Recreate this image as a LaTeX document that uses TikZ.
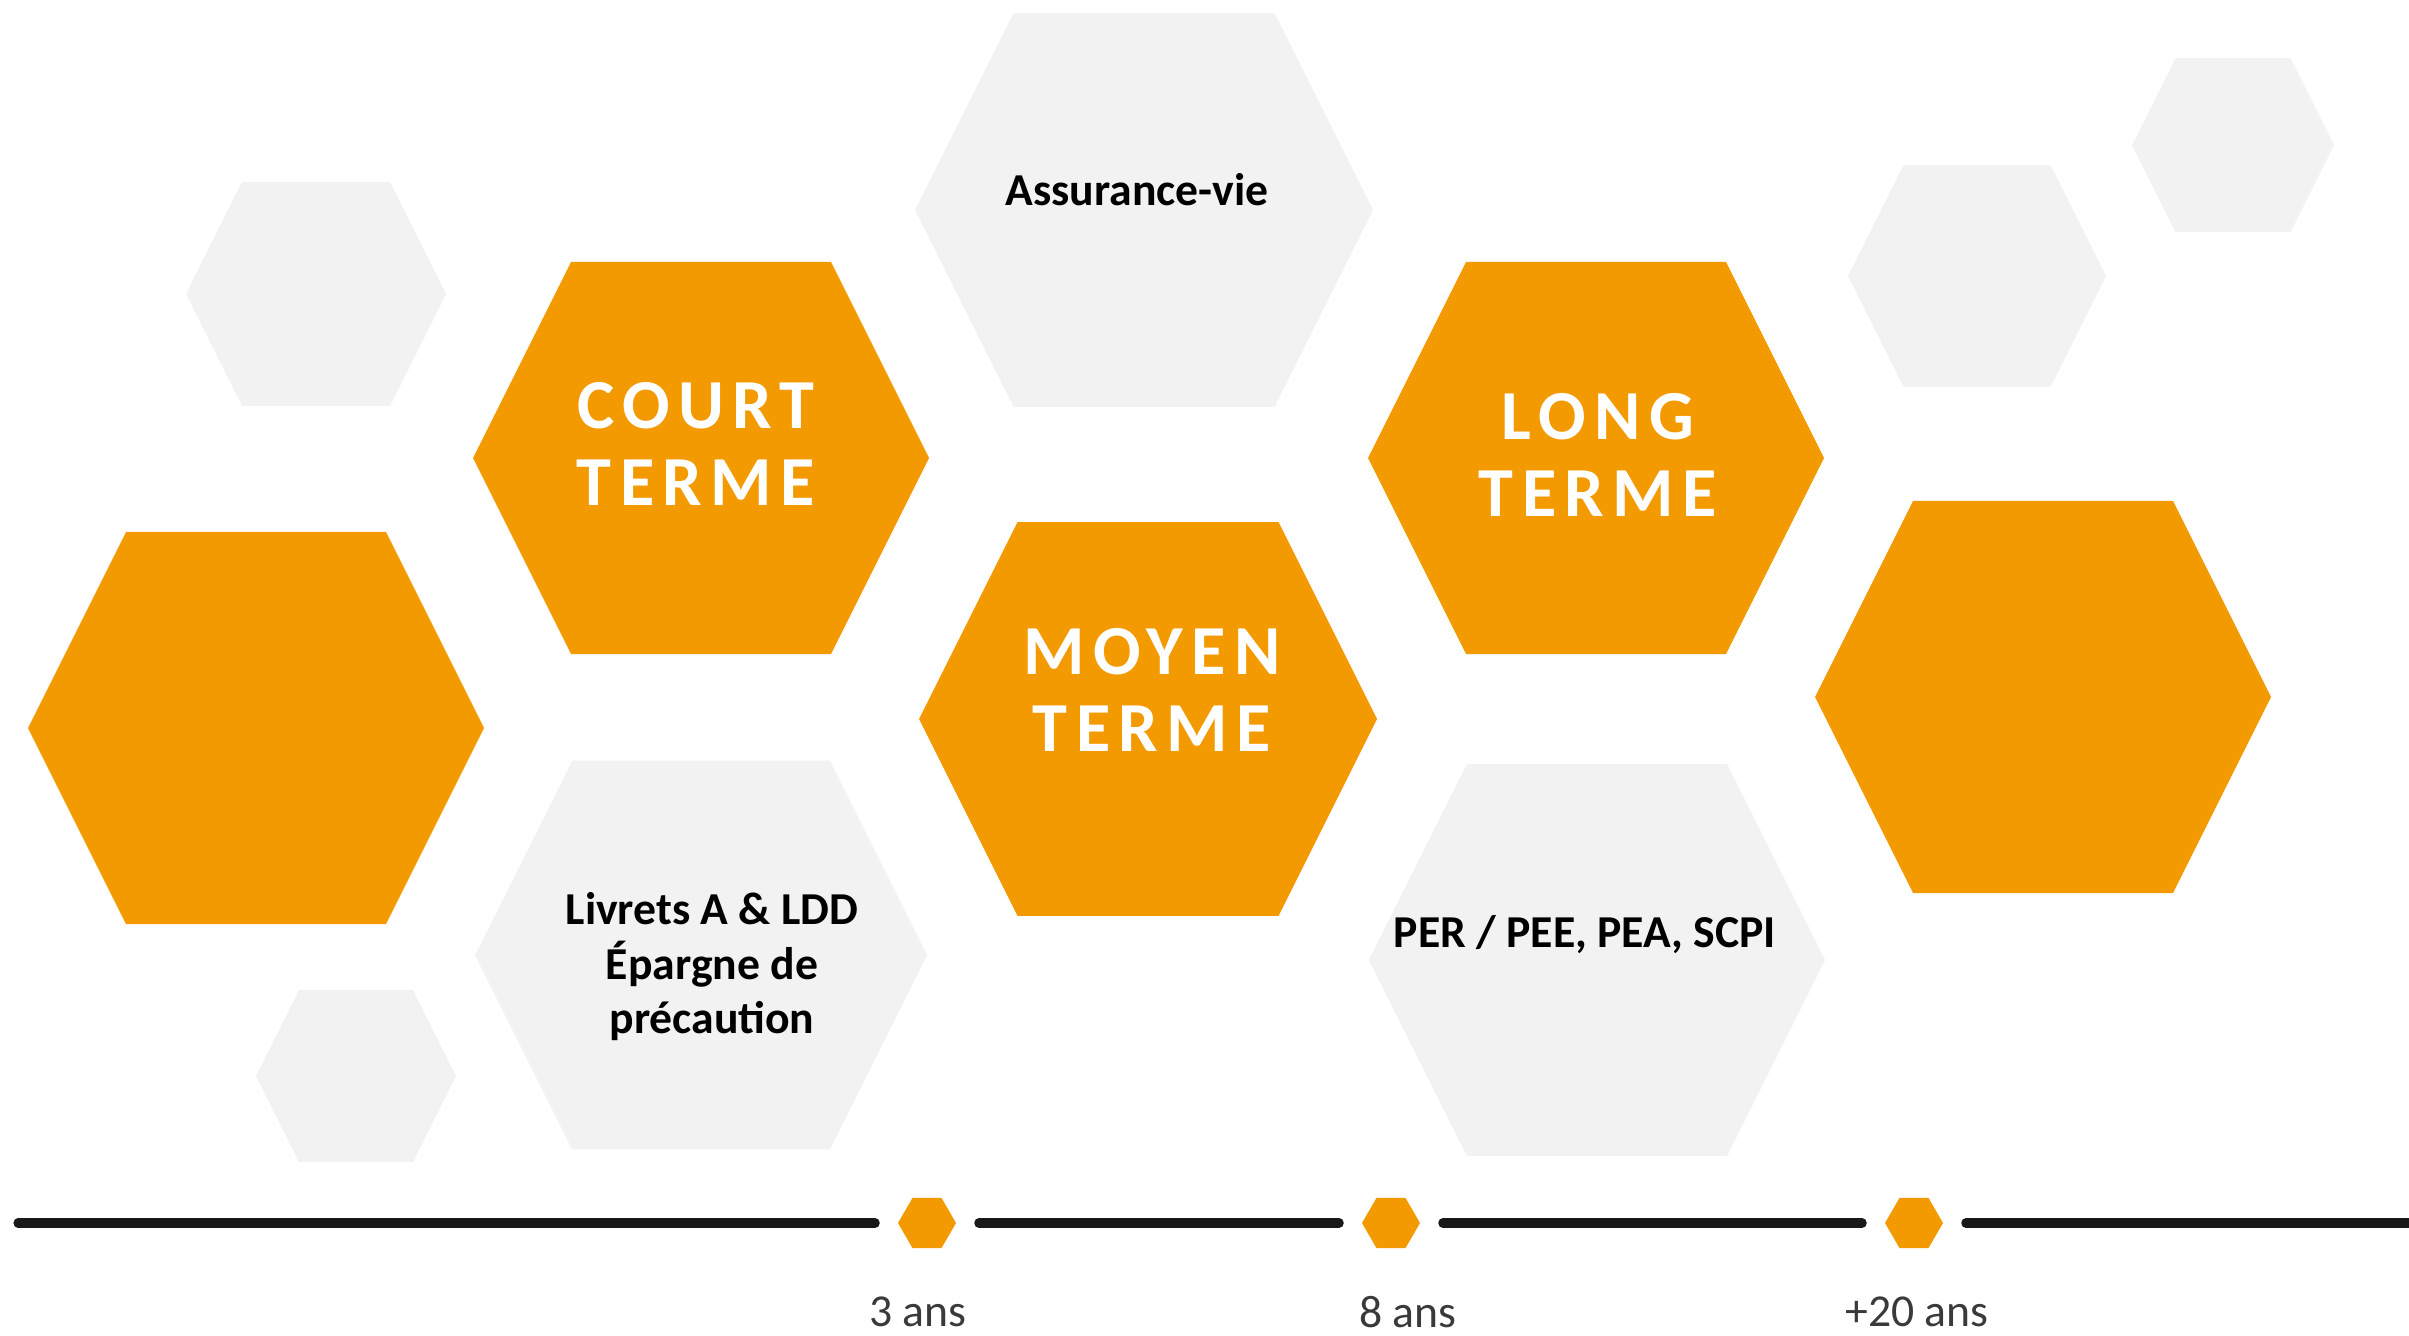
\documentclass[tikz,border=0pt]{standalone}
\usepackage{fontspec}
\setmainfont{Carlito}
\newfontfamily\spaced[LetterSpace=12]{Carlito}
\usetikzlibrary{shapes.geometric}
\definecolor{orangeh}{HTML}{F39A00}
\definecolor{grish}{HTML}{F2F2F2}
\definecolor{grisl}{HTML}{3A3A3A}

\begin{document}
\begin{tikzpicture}[
  bigtxt/.style={text=white, font=\spaced\bfseries\fontsize{20}{22}\selectfont, align=center},
  smalltxt/.style={text=black, font=\bfseries\fontsize{13}{15.5}\selectfont, align=center},
  yeartxt/.style={text=grisl, font=\fontsize{13}{15}\selectfont},
  jalon/.style={regular polygon, regular polygon sides=6, fill=orangeh, minimum size=0.58cm, inner sep=0pt},
  axe/.style={line width=2.6pt, black!90, line cap=round}]
\useasboundingbox (0,0) rectangle (24.09,13.35);
% hexagons
\foreach \x/\y/\w/\c in {2.56/6.07/2.28/orangeh, 7.01/8.77/2.28/orangeh, 11.48/6.16/2.29/orangeh,
  15.96/8.77/2.28/orangeh, 20.43/6.38/2.28/orangeh, 11.44/11.25/2.29/grish, 7.01/3.80/2.26/grish,
  15.97/3.75/2.28/grish, 3.16/10.41/1.30/grish, 3.56/2.59/1.00/grish, 19.77/10.59/1.29/grish,
  22.33/11.90/1.01/grish}
  \fill[\c] ({\x-\w},\y) -- ({\x-0.57*\w},{\y+0.86*\w}) -- ({\x+0.57*\w},{\y+0.86*\w})
    -- ({\x+\w},\y) -- ({\x+0.57*\w},{\y-0.86*\w}) -- ({\x-0.57*\w},{\y-0.86*\w}) -- cycle;
% texts
\node[bigtxt] (court) at (6.96, 8.91) {COURT\\TERME};
\node[bigtxt] (moyen) at (11.52, 6.45) {MOYEN\\TERME};
\node[bigtxt] (long) at (15.98, 8.80) {LONG\\TERME};
\node[smalltxt] (av) at (11.37, 11.45) {Assurance-vie};
\node[smalltxt] (livrets) at (7.12, 3.68) {Livrets A \& LDD\\Épargne de\\précaution};
\node[smalltxt] (per) at (15.85, 4.00) {PER / PEE, PEA, SCPI};
% timeline
\coordinate (deb) at (0.18, 1.12);
\coordinate (fin) at (24.09, 1.12);
\node[jalon] (t3) at (9.27, 1.12) {};
\node[jalon] (t8) at (13.91, 1.12) {};
\node[jalon] (t20) at (19.14, 1.12) {};
\draw[axe, shorten >=0.22cm] (deb) -- (t3);
\draw[axe, shorten <=0.22cm, shorten >=0.22cm] (t3) -- (t8);
\draw[axe, shorten <=0.22cm, shorten >=0.22cm] (t8) -- (t20);
\draw[axe, shorten <=0.22cm] (t20) -- (fin);
\node[yeartxt] (a3) at (9.18, 0.23) {3 ans};
\node[yeartxt] (a8) at (14.08, 0.23) {8 ans};
\node[yeartxt] (a20) at (19.17, 0.23) {+20 ans};
\end{tikzpicture}
\end{document}
